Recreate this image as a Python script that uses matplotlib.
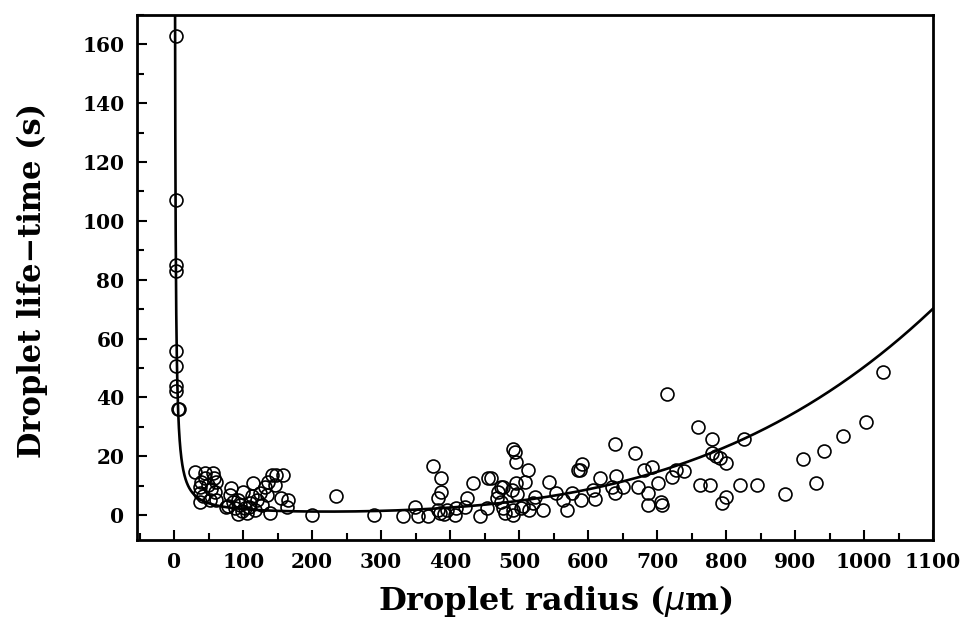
import numpy as np
import matplotlib
matplotlib.use("Agg")
import matplotlib.pyplot as plt
from matplotlib.ticker import MultipleLocator

# ---- data ----
radius_um = [
    # near-zero radius, long life-times
    2, 2, 2, 2.5, 2.5, 2.5, 2.5, 3, 5, 7,
    # cluster 20-170 um
    30, 45, 56, 39, 61, 37, 49, 59, 37, 37, 52, 61, 44, 53, 42, 57,
    83, 81, 100, 114, 93, 75, 88, 102, 105, 117, 110, 124, 131, 136, 141, 148,
    158, 146, 134, 155, 165, 164, 139, 127, 95, 98, 108, 85, 120, 112, 78, 92,
    200, 235, 290,
    # cluster 330-590 um
    332, 349, 354, 368, 375, 387, 387, 383, 383, 385, 391, 395, 407, 409, 424,
    421, 433, 443, 453, 455, 470, 474, 474, 477, 479, 489, 491, 494, 496, 496,
    508, 513, 491, 503, 515, 491, 523, 535, 544, 554, 564, 569, 576, 585,
    459, 476, 468, 497, 505, 520,
    # cluster 590-1030 um
    590, 588, 591, 607, 610, 617, 634, 639, 641, 639, 651, 668, 672, 681, 692,
    687, 687, 701, 706, 707, 715, 721, 728, 739, 759, 762, 776, 779, 779, 785,
    791, 800, 800, 794, 820, 826, 845, 885, 911, 930, 942, 970, 1003, 1027,
]
lifetime_s = [
    163, 107, 85, 83, 55.6, 50.6, 44, 42, 36, 36,
    14.7, 14.2, 14.2, 11.2, 11.2, 9.6, 10.2, 7.9, 7.5, 4.5, 5.1, 5.1, 12.5, 9.0, 6.5, 12.5,
    9.2, 6.8, 7.9, 11.0, 5.1, 2.8, 2.3, 2.3, 0.7, 1.7, 4.0, 7.5, 9.6, 11.3, 13.6, 13.6,
    13.6, 10.2, 6.8, 5.7, 5.1, 2.8, 0.6, 3.4, 3.5, 1.5, 2.8, 4.5, 5.0, 6.5, 3.0, 0.5,
    0.0, 6.5, 0.0,
    -0.3, 2.8, -0.3, -0.3, 16.6, 12.5, 7.9, 5.7, 1.7, 0.6, 0.3, 1.7, 0.0, 2.3, 5.7,
    2.8, 10.8, -0.3, 2.3, 12.5, 7.9, 9.6, 4.5, 2.3, 0.6, 8.5, 22.6, 21.5, 18.1, 10.8,
    11.3, 15.3, 1.7, 2.3, 1.7, 0.0, 6.2, 1.7, 11.3, 7.4, 5.1, 1.7, 7.4, 15.3,
    12.5, 9.6, 5.7, 7.0, 3.0, 4.0,
    5.1, 15.3, 17.3, 8.5, 5.3, 12.5, 9.6, 7.4, 13.2, 24.1, 9.4, 21.2, 9.4, 15.3, 16.2,
    7.4, 3.4, 11.0, 4.5, 3.4, 41.1, 13.0, 15.3, 15.0, 30.0, 10.2, 10.2, 26.0, 21.0, 20.0,
    19.3, 17.8, 6.2, 4.0, 10.2, 26.0, 10.2, 7.0, 19.0, 11.0, 21.7, 26.8, 31.7, 48.7,
]

# fitted model curve: t = FIT_A / r + FIT_B * r**FIT_N
FIT_A = 200.0
FIT_B = 1.585e-9
FIT_N = 3.5

x_ticks = [0, 100, 200, 300, 400, 500, 600, 700, 800, 900, 1000, 1100]
y_ticks = [0, 20, 40, 60, 80, 100, 120, 140, 160]

# ---- figure ----
fig = plt.figure(figsize=(9.61, 6.22), dpi=100)
ax = fig.add_axes([137 / 961, 82 / 622, (933 - 137) / 961, (540 - 15) / 622])

r_fit = np.linspace(1.0, 1100, 4000)
t_fit = FIT_A / r_fit + FIT_B * r_fit ** FIT_N
ax.plot(r_fit, t_fit, color="black", lw=1.9, zorder=2)

ax.plot(radius_um, lifetime_s, linestyle="none", marker="o", markersize=9.3,
        markerfacecolor="none", markeredgecolor="black", markeredgewidth=1.2, zorder=3)

ax.set_xlim(-54, 1100)
ax.set_ylim(-8.5, 170)

serif = dict(family="DejaVu Serif", weight="bold")
ax.set_xticks(x_ticks)
ax.set_yticks(y_ticks)
ax.xaxis.set_minor_locator(MultipleLocator(50))
ax.yaxis.set_minor_locator(MultipleLocator(10))
ax.set_xticklabels([str(v) for v in x_ticks], fontdict=dict(size=14.5, **serif))
ax.set_yticklabels([str(v) for v in y_ticks], fontdict=dict(size=14.5, **serif))
ax.tick_params(axis="both", which="major", direction="in", length=7, width=1.5, pad=9)
ax.tick_params(axis="both", which="minor", direction="in", length=5, width=1.5)
ax.tick_params(top=False, right=False, which="both")

for s in ax.spines.values():
    s.set_linewidth(2.0)

ax.set_xlabel(r"Droplet radius ($\mu$m)", fontdict=dict(size=23, **serif))
ax.set_ylabel("Droplet life\u2212time (s)", fontdict=dict(size=22, **serif))
ax.xaxis.set_label_coords(0.526, -0.116, transform=ax.transAxes)
ax.yaxis.set_label_coords(-0.132, 0.495, transform=ax.transAxes)
ax.xaxis.label.set_va("center")
ax.yaxis.label.set_va("center")

fig.savefig("out.png", dpi=100)
